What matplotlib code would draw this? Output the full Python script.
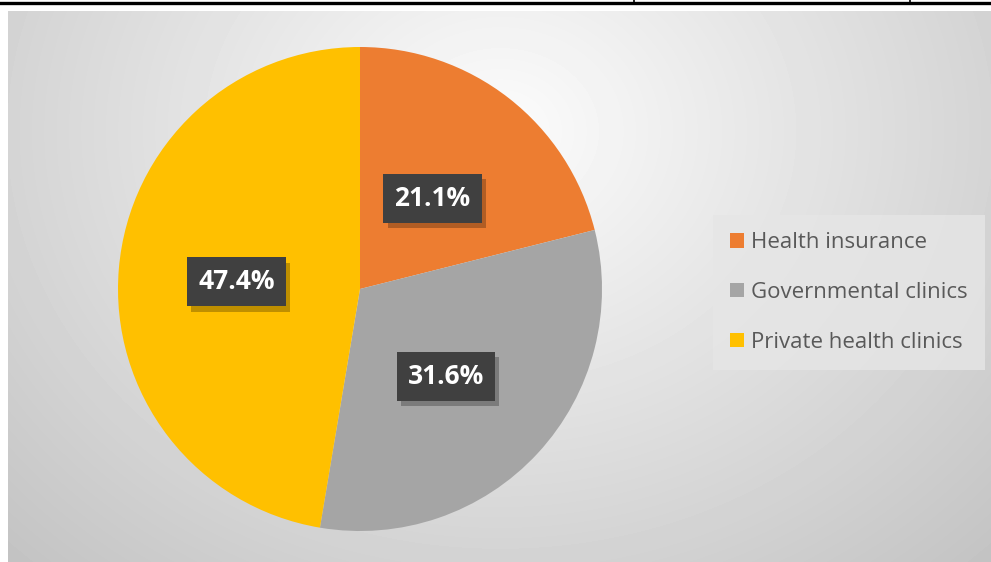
import matplotlib.pyplot as plt
import matplotlib.patheffects as pe
from matplotlib.patches import Patch
from matplotlib.lines import Line2D
import numpy as np

categories = ['Health insurance', 'Governmental clinics', 'Private health clinics']
shares = [21.1, 31.6, 47.4]
colors = ['#ED7D31', '#A5A5A5', '#FFC000']

W, H = 991, 562
fig = plt.figure(figsize=(W / 100, H / 100), dpi=100)
fig.patch.set_facecolor('white')

# page artifacts: black rule along the top
fig.add_artist(Line2D([0, 1], [1 - 3 / H, 1 - 3 / H], color='black', lw=2.4))
for xp in [634, 910]:
    fig.add_artist(Line2D([xp / W, xp / W], [1 - 3 / H, 1], color='black', lw=1.2))

# chart panel with a soft radial grey gradient
bg = fig.add_axes([8 / W, 0, 1 - 8 / W, (H - 11) / H])
yy, xx = np.mgrid[0:551, 0:983]
r = np.sqrt(((xx - 492) / 520.0) ** 2 + ((yy - 120) / 440.0) ** 2)
val = np.clip(252 - 42 * r, 185, 252) / 255.0
bg.imshow(val, cmap='gray', vmin=0, vmax=1, aspect='auto', interpolation='bilinear')
bg.set_axis_off()

# pie
cx, cy, rad = 360, 289, 242
ax = fig.add_axes([(cx - rad) / W, (H - cy - rad) / H, 2 * rad / W, 2 * rad / H])
wedges, _ = ax.pie(shares, colors=colors, startangle=90, counterclock=False,
                   radius=1.0, wedgeprops=dict(linewidth=0))
ax.set_xlim(-1, 1)
ax.set_ylim(-1, 1)
ax.set_aspect('equal')
ax.set_axis_off()

# data labels in dark boxes
label_pos = [(0.30, 0.375), (0.355, -0.36), (-0.51, 0.03)]
for val_, (lx, ly) in zip(shares, label_pos):
    t = ax.text(lx, ly, f'{val_:.1f}%', ha='center', va='center', color='white',
                fontsize=19, fontweight='bold', family=['Open Sans', 'DejaVu Sans'],
                bbox=dict(boxstyle='square,pad=0.42', facecolor='#404040', edgecolor='none'))
    t.get_bbox_patch().set_path_effects([
        pe.SimplePatchShadow(offset=(3, -4), shadow_rgbFace='black', alpha=0.25),
        pe.Normal()])

# legend
handles = [Patch(facecolor=c, edgecolor='none') for c in colors]
leg = fig.legend(handles, categories, loc='upper left',
                 bbox_to_anchor=(713 / W, 1 - 215 / H), frameon=True,
                 prop=dict(family=['Open Sans', 'DejaVu Sans'], size=16),
                 handlelength=0.6, handleheight=0.6, handletextpad=0.35,
                 labelspacing=1.3, borderpad=0.78, borderaxespad=0,
                 fancybox=False)
leg.get_frame().set_facecolor('#e6e6e6')
leg.get_frame().set_edgecolor('none')
leg.get_frame().set_alpha(0.8)
for txt in leg.get_texts():
    txt.set_color('#595959')

fig.savefig('out.png', dpi=100)
